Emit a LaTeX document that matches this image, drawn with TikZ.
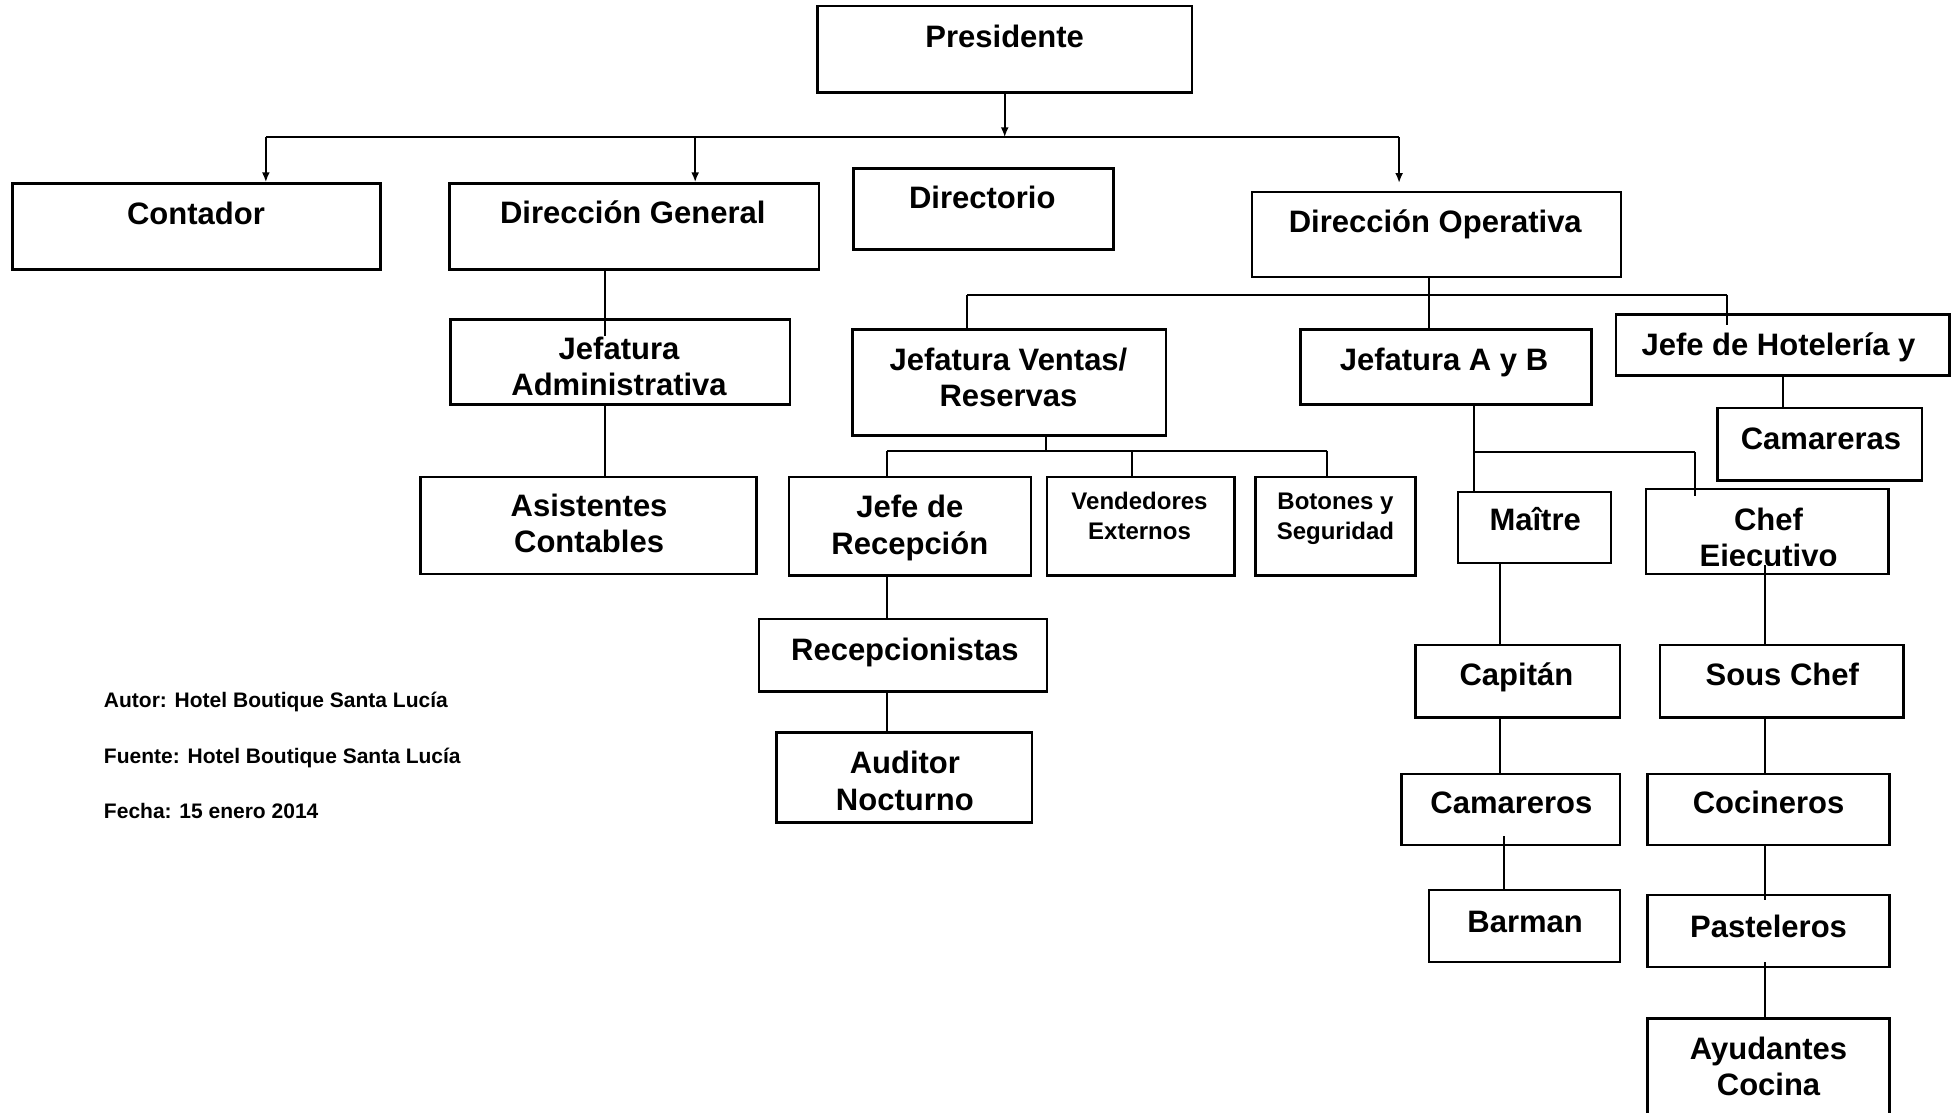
\documentclass[tikz,border=0pt]{standalone}
\usepackage{fontspec}
\setmainfont{Liberation Sans}
\usetikzlibrary{fit,arrows.meta}

\tikzset{
  caja/.style={draw,line width=1.2pt,inner sep=0pt},
  rotulo/.style={font=\bfseries\fontsize{15.5}{18.3}\selectfont,align=center,inner sep=0pt,anchor=base},
  rotulochico/.style={font=\bfseries\fontsize{12}{15}\selectfont,align=center,inner sep=0pt,anchor=base},
  nota/.style={font=\bfseries\fontsize{10.5}{12}\selectfont,anchor=base west,inner sep=0pt},
  linea/.style={line width=1pt}
}

\begin{document}
\begin{tikzpicture}[x=0.624pt,y=-0.624pt,>={Latex[length=5pt,width=4pt]}]
        \clip (0,0) rectangle (1568,891);
        \node[caja,fit={(655,5) (955,74)}] (pres) {};
        \node[caja,fit={(10,147) (305,216)}] (cont) {};
        \node[caja,fit={(360,147) (656,216)}] (dgen) {};
        \node[caja,fit={(684,135) (892,200)}] (dirc) {};
        \node[caja,fit={(1003,154) (1299,222)}] (dop) {};
        \node[caja,fit={(361,256) (633,324)}] (jadm) {};
        \node[caja,fit={(337,382) (606,460)}] (asis) {};
        \node[caja,fit={(683,264) (934,349)}] (jven) {};
        \node[caja,fit={(1042,264) (1275,324)}] (jab) {};
        \node[caja,fit={(1295,252) (1562,301)}] (jhot) {};
        \node[caja,fit={(1376,327) (1540,385)}] (cama) {};
        \node[caja,fit={(632,382) (826,461)}] (jrec) {};
        \node[caja,fit={(839,382) (989,461)}] (vend) {};
        \node[caja,fit={(1006,382) (1134,461)}] (boto) {};
        \node[caja,fit={(1168,394) (1291,451)}] (mait) {};
        \node[caja,fit={(1319,392) (1513,460)}] (chej) {};
        \node[caja,fit={(608,496) (839,554)}] (recep) {};
        \node[caja,fit={(622,587) (827,659)}] (audi) {};
        \node[caja,fit={(1134,517) (1298,575)}] (capi) {};
        \node[caja,fit={(1330,517) (1525,575)}] (sous) {};
        \node[caja,fit={(1123,620) (1298,677)}] (cmro) {};
        \node[caja,fit={(1320,620) (1514,677)}] (coci) {};
        \node[caja,fit={(1145,713) (1298,771)}] (barm) {};
        \node[caja,fit={(1320,717) (1514,775)}] (past) {};
        \node[caja,fit={(1320,816) (1514,905)}] (ayud) {};
        \node[rotulo] (presT) at (805,38) {Presidente};
        \node[rotulo] (contT) at (157,180) {Contador};
        \node[rotulo] (dgenT) at (507,179) {Dirección General};
        \node[rotulo] (dircT) at (787,167) {Directorio};
        \node[rotulo] (dopT) at (1150,186) {Dirección Operativa};
        \begin{scope}
          \clip (361,256) rectangle (633,317.5);
          \node[rotulo] (jadmT) at (496,317) {Jefatura\\Administrativa};
        \end{scope}
        \node[rotulo] (asisT) at (472,443) {Asistentes\\Contables};
        \node[rotulo] (jvenT) at (808,326) {Jefatura Ventas/\\Reservas};
        \node[rotulo] (jabT) at (1157,297) {Jefatura A y B};
        \node[rotulo] (jhotT) at (1425,285) {Jefe de Hotelería y};
        \node[rotulo] (camaT) at (1459,360) {Camareras};
        \node[rotulo] (jrecT) at (729,444) {Jefe de\\Recepción};
        \node[rotulochico] (vendT) at (913,432) {Vendedores\\Externos};
        \node[rotulochico] (botoT) at (1070,432) {Botones y\\Seguridad};
        \node[rotulo] (maitT) at (1230,425) {Maître};
        \begin{scope}
          \clip (1319,392) rectangle (1513,453);
          \node[rotulo] (chejT) at (1417,454) {Chef\\Ejecutivo};
        \end{scope}
        \node[rotulo] (recepT) at (725,529) {Recepcionistas};
        \node[rotulo] (audiT) at (725,649) {Auditor\\Nocturno};
        \node[rotulo] (capiT) at (1215,549) {Capitán};
        \node[rotulo] (sousT) at (1428,549) {Sous Chef};
        \node[rotulo] (cmroT) at (1211,652) {Camareros};
        \node[rotulo] (cociT) at (1417,652) {Cocineros};
        \node[rotulo] (barmT) at (1222,747) {Barman};
        \node[rotulo] (pastT) at (1417,751) {Pasteleros};
        \node[rotulo] (ayudT) at (1417,878) {Ayudantes\\Cocina};
        \node[nota] (autor) at (83,567) {Autor: Hotel Boutique Santa Lucía};
        \node[nota] (fuente) at (83,612) {Fuente: Hotel Boutique Santa Lucía};
        \node[nota] (fecha) at (83,656) {Fecha: 15 enero 2014};
        \coordinate (bus) at (805,110);
        \coordinate (busL) at (213,110);
        \coordinate (busG) at (557,110);
        \coordinate (busR) at (1121,110);
        \draw[linea,->] (pres) -- (bus);
        \draw[line width=1.2pt] (busL) -- (busR);
        \draw[linea,->] (busL) -- (busL |- cont.north);
        \draw[linea,->] (busG) -- (busG |- dgen.north);
        \draw[linea,->,shorten >=4pt] (busR) -- (busR |- dop.north);
        \coordinate (tAdm) at (485,0);
        \draw[linea] (tAdm |- dgen.south) -- ([yshift=-9pt]tAdm |- jadm.north);
        \draw[linea] (tAdm |- jadm.south) -- (tAdm |- asis.north);
        \coordinate (tOp) at (1145,236);
        \coordinate (opL) at (775,236);
        \coordinate (opR) at (1384,236);
        \draw[linea] (tOp |- dop.south) -- (tOp |- jab.north);
        \draw[linea] (opL) -- (opR);
        \draw[linea] (opL) -- (opL |- jven.north);
        \draw[linea] (opR) -- ([yshift=-6pt]opR |- jhot.north);
        \draw[linea] (jhot.south) -- (jhot.south |- cama.north);
        \coordinate (ven) at (838,361);
        \coordinate (vL) at (711,361);
        \coordinate (vM) at (907,361);
        \coordinate (vR) at (1063,361);
        \draw[linea] (ven |- jven.south) -- (ven);
        \draw[linea] (vL) -- (vR);
        \draw[linea] (vL) -- (vL |- jrec.north);
        \draw[linea] (vM) -- (vM |- vend.north);
        \draw[linea] (vR) -- (vR |- boto.north);
        \draw[linea] (vL |- jrec.south) -- (vL |- recep.north);
        \draw[linea] (vL |- recep.south) -- (vL |- audi.north);
        \coordinate (ab) at (1181,362);
        \coordinate (abR) at (1358,362);
        \draw[linea] (ab |- jab.south) -- (ab |- mait.north);
        \draw[linea] (ab) -- (abR);
        \draw[linea] (abR) -- ([yshift=-4pt]abR |- chej.north);
        \coordinate (tBar) at (1202,0);
        \draw[linea] (tBar |- mait.south) -- (tBar |- capi.north);
        \draw[linea] (tBar |- capi.south) -- (tBar |- cmro.north);
        \draw[linea] ([xshift=2pt,yshift=5pt]tBar |- cmro.south) -- ([xshift=2pt]tBar |- barm.north);
        \coordinate (tCoc) at (1414,0);
        \draw[linea] ([yshift=5pt]tCoc |- chej.south) -- (tCoc |- sous.north);
        \draw[linea] (tCoc |- sous.south) -- (tCoc |- coci.north);
        \draw[linea] (tCoc |- coci.south) -- ([yshift=-3pt]tCoc |- past.north);
        \draw[linea] ([yshift=3pt]tCoc |- past.south) -- (tCoc |- ayud.north);
      \end{tikzpicture}
\end{document}
